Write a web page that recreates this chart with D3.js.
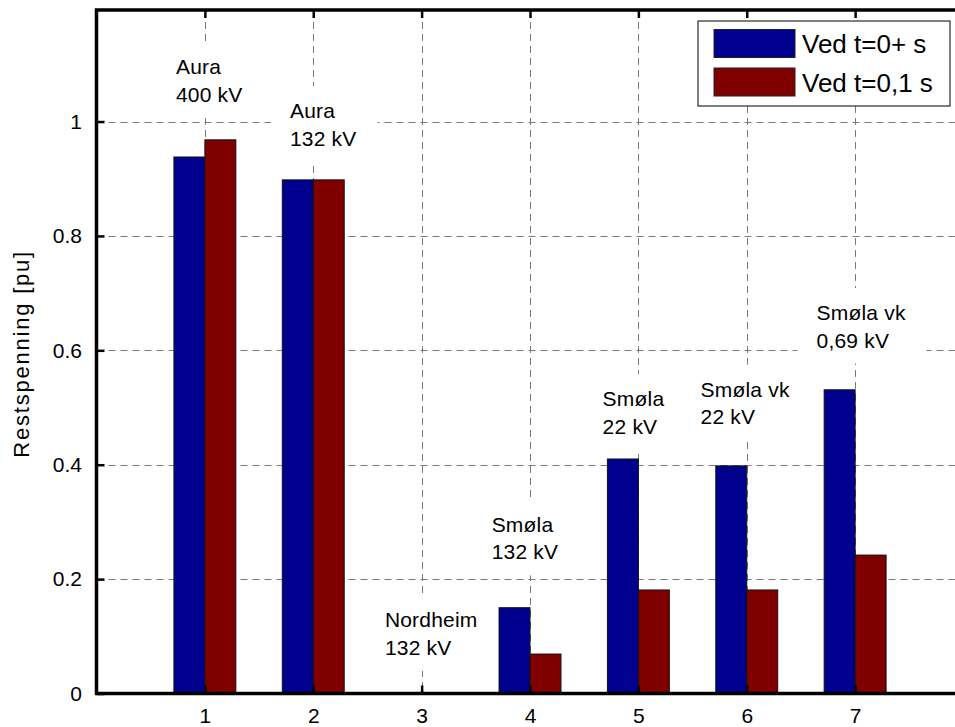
<!DOCTYPE html>
<html>
<head>
<meta charset="utf-8">
<script src="https://cdn.jsdelivr.net/npm/d3@7/dist/d3.min.js"></script>
<style>
  html, body { margin: 0; padding: 0; background: #fff; }
  svg { display: block; }
  text { font-family: "Liberation Sans", Arial, Helvetica, sans-serif; fill: #000; }
</style>
</head>
<body>
<svg id="chart" width="955" height="727"></svg>
<script>
// Residual voltage per bus, two instants after the fault
const categories = [1, 2, 3, 4, 5, 6, 7];
const seriesNames = ["Ved t=0+ s", "Ved t=0,1 s"];
const valuesT0 = [0.938, 0.898, 0, 0.150, 0.410, 0.398, 0.531];
const valuesT01 = [0.968, 0.898, 0, 0.069, 0.181, 0.181, 0.242];
const yTicks = [0, 0.2, 0.4, 0.6, 0.8, 1];
const yTickLabels = ["0", "0.2", "0.4", "0.6", "0.8", "1"];
const xTickLabels = ["1", "2", "3", "4", "5", "6", "7"];
const yAxisTitle = "Restspenning [pu]";

// Bus annotations (name, voltage level) and their anchors in data units
const siteNames = ["Aura", "Aura", "Nordheim", "Smøla", "Smøla", "Smøla vk", "Smøla vk"];
const siteVoltages = ["400 kV", "132 kV", "132 kV", "132 kV", "22 kV", "22 kV", "0,69 kV"];
const labelAnchorX = [0.733, 1.785, 2.661, 3.646, 4.670, 5.574, 6.644];
const labelAnchorY = [1.083, 1.006, 0.116, 0.283, 0.502, 0.519, 0.653];

const colors = ["#00008f", "#800000"];
const series = [valuesT0, valuesT01];

const svg = d3.select("#chart");
const x = d3.scaleLinear().domain([0, 8]).range([96.5, 963.5]);
const y = d3.scaleLinear().domain([0, 1.195]).range([693.5, 10]);
const [x0, x1] = x.range();
const [yb, yt] = y.range();
const barW = 2 / 7; // each bar of a 2-bar group
const fontSize = 21;

// Grid
const grid = svg.append("g").attr("stroke", "#7a7a7a").attr("stroke-width", 1)
  .attr("stroke-dasharray", "7,5");
grid.selectAll("line.v").data(categories).join("line").attr("class", "v")
  .attr("x1", d => Math.round(x(d)) + 0.5).attr("x2", d => Math.round(x(d)) + 0.5)
  .attr("y1", yt).attr("y2", yb);
grid.selectAll("line.h").data(yTicks.filter(d => d > 0)).join("line").attr("class", "h")
  .attr("y1", d => Math.round(y(d)) + 0.5).attr("y2", d => Math.round(y(d)) + 0.5)
  .attr("x1", x0).attr("x2", x1);

// Annotations with white backing boxes (drawn under the bars)
const ann = svg.append("g");
categories.forEach((c, i) => {
  const g = ann.append("g");
  const tx = x(labelAnchorX[i]);
  const ty = y(labelAnchorY[i]);
  const lineGap = 27.7;
  const rect = g.append("rect").attr("fill", "#fff");
  const t1 = g.append("text").attr("x", tx).attr("y", ty)
    .attr("font-size", fontSize).attr("letter-spacing", 0.2).text(siteNames[i]);
  const t2 = g.append("text").attr("x", tx).attr("y", ty + lineGap)
    .attr("font-size", fontSize).attr("letter-spacing", 0.2).text(siteVoltages[i]);
  const w = Math.max(t1.node().getComputedTextLength(), t2.node().getComputedTextLength());
  rect.attr("x", tx - 19).attr("width", w + 40)
    .attr("y", ty - 32).attr("height", lineGap + 48);
});

// Bars
series.forEach((vals, si) => {
  svg.append("g").selectAll("rect").data(categories).join("rect")
    .attr("x", d => x(si === 0 ? d - barW : d))
    .attr("width", x(barW) - x(0))
    .attr("y", (d, i) => y(vals[i]))
    .attr("height", (d, i) => y(0) - y(vals[i]))
    .attr("fill", colors[si])
    .attr("stroke", "#111")
    .attr("stroke-width", 1);
});

// Axes: inward ticks on all sides
function styleAxis(g) {
  g.select(".domain").remove();
  g.selectAll(".tick line").attr("stroke", "#000").attr("stroke-width", 2.5);
  g.selectAll(".tick text").attr("font-size", fontSize)
    .attr("font-family", "Liberation Sans, Arial, sans-serif").attr("fill", "#000");
}
svg.append("g").attr("transform", `translate(0,${yb})`)
  .call(d3.axisBottom(x).tickValues(categories).tickSize(-8).tickPadding(14.5)
    .tickFormat((d, i) => xTickLabels[i]))
  .call(styleAxis);
svg.append("g").attr("transform", `translate(0,${yt})`)
  .call(d3.axisTop(x).tickValues(categories).tickSize(-8).tickFormat(""))
  .call(styleAxis);
svg.append("g").attr("transform", `translate(${x0},0)`)
  .call(d3.axisLeft(y).tickValues(yTicks).tickSize(-8).tickPadding(14.5)
    .tickFormat((d, i) => yTickLabels[i]))
  .call(styleAxis);
svg.append("g").attr("transform", `translate(${x1},0)`)
  .call(d3.axisRight(y).tickValues(yTicks).tickSize(-8).tickFormat(""))
  .call(styleAxis);

// Axes box
svg.append("rect").attr("x", x0).attr("y", yt).attr("width", x1 - x0).attr("height", yb - yt)
  .attr("fill", "none").attr("stroke", "#000").attr("stroke-width", 3.5);

// Y axis title
svg.append("text")
  .attr("transform", `translate(29,${(yt + yb) / 2 + 3}) rotate(-90)`)
  .attr("text-anchor", "middle").attr("font-size", 22)
  .attr("textLength", 206).attr("lengthAdjust", "spacing")
  .text(yAxisTitle);

// Legend
const lg = svg.append("g").attr("transform", "translate(698,21)");
lg.append("rect").attr("width", 252).attr("height", 85)
  .attr("fill", "#fff").attr("stroke", "#000").attr("stroke-width", 1);
seriesNames.forEach((name, i) => {
  lg.append("rect").attr("x", 16).attr("y", 8.5 + i * 38.5).attr("width", 81).attr("height", 28)
    .attr("fill", colors[i]).attr("stroke", "#222").attr("stroke-width", 1);
  lg.append("text").attr("x", 104).attr("y", 32.3 + i * 38.4)
    .attr("font-size", 26).text(name);
});
</script>
</body>
</html>
